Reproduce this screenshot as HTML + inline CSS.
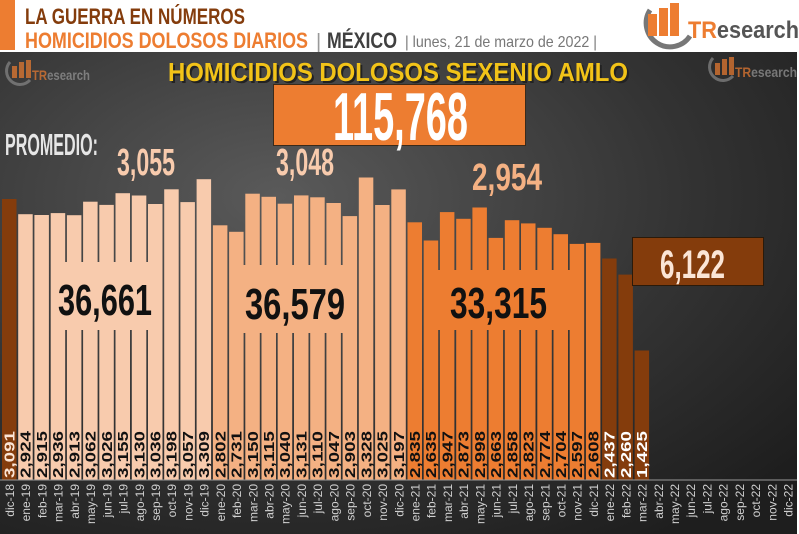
<!DOCTYPE html>
<html><head><meta charset="utf-8"><style>
html,body{margin:0;padding:0;background:#fff;}
svg{display:block;font-family:"Liberation Sans",sans-serif;}
</style></head><body>
<svg width="799" height="534" viewBox="0 0 799 534" xmlns="http://www.w3.org/2000/svg">
<defs>
<radialGradient id="bg" cx="0.35" cy="0.3" r="0.85">
<stop offset="0" stop-color="#5a5a5a"/><stop offset="0.6" stop-color="#333"/><stop offset="1" stop-color="#1e1e1e"/>
</radialGradient>
</defs>
<rect x="0" y="0" width="799" height="534" fill="#fff"/>
<rect x="0" y="52" width="797" height="482" fill="url(#bg)"/>
<rect x="0" y="0" width="15" height="50" fill="#ed7d31"/>
<text x="25" y="24" font-size="22" font-weight="bold" fill="#843c0c" textLength="220" lengthAdjust="spacingAndGlyphs">LA GUERRA EN NÚMEROS</text>
<text x="25" y="48" font-size="22" font-weight="bold" fill="#ed7d31" textLength="283" lengthAdjust="spacingAndGlyphs">HOMICIDIOS DOLOSOS DIARIOS</text>
<text x="316" y="48" font-size="20" fill="#999">|</text>
<text x="327" y="48" font-size="22" font-weight="bold" fill="#404040" textLength="70" lengthAdjust="spacingAndGlyphs">MÉXICO</text>
<text x="405" y="47" font-size="16" fill="#777" textLength="192" lengthAdjust="spacingAndGlyphs">| lunes, 21 de marzo de 2022 |</text>
<!-- logo -->
<path d="M650 10 A22 22 0 1 0 690 36" fill="none" stroke="#777" stroke-width="5"/>
<rect x="648" y="14" width="9" height="22" fill="#ed7d31"/><rect x="659" y="8" width="9" height="28" fill="#ed7d31"/><rect x="670" y="3" width="9" height="33" fill="#ed7d31"/>
<text x="688" y="38" font-size="24" font-weight="bold" fill="#ed7d31" textLength="111" lengthAdjust="spacingAndGlyphs">TR<tspan fill="#555">esearch</tspan></text>
<g opacity="0.7">
<path d="M10 62 A12 12 0 1 0 30 80" fill="none" stroke="#888" stroke-width="3"/>
<rect x="12" y="66" width="5" height="12" fill="#ed7d31"/><rect x="19" y="62" width="5" height="16" fill="#ed7d31"/><rect x="26" y="60" width="5" height="18" fill="#ed7d31"/>
<text x="32" y="80" font-size="14" font-weight="bold" fill="#ed7d31" textLength="58" lengthAdjust="spacingAndGlyphs">TR<tspan fill="#999">esearch</tspan></text>
<path d="M713 58 A12 12 0 1 0 733 76" fill="none" stroke="#888" stroke-width="3"/>
<rect x="715" y="63" width="5" height="12" fill="#ed7d31"/><rect x="722" y="59" width="5" height="16" fill="#ed7d31"/><rect x="729" y="57" width="5" height="18" fill="#ed7d31"/>
<text x="735" y="77" font-size="14" font-weight="bold" fill="#ed7d31" textLength="62" lengthAdjust="spacingAndGlyphs">TR<tspan fill="#999">esearch</tspan></text>
</g>
<text x="170" y="83" font-size="26" font-weight="bold" fill="#222" textLength="460" lengthAdjust="spacingAndGlyphs">HOMICIDIOS DOLOSOS SEXENIO AMLO</text>
<text x="168" y="81" font-size="26" font-weight="bold" fill="#f2c318" textLength="460" lengthAdjust="spacingAndGlyphs">HOMICIDIOS DOLOSOS SEXENIO AMLO</text>
<rect x="273.5" y="84.5" width="252" height="61" fill="#ed7d31" stroke="#3a2a1a"/>
<text x="333" y="140" font-size="68" font-weight="bold" fill="#fff" textLength="135" lengthAdjust="spacingAndGlyphs">115,768</text>
<text x="5" y="155" font-size="31" font-weight="bold" fill="#e6e6e6" textLength="93" lengthAdjust="spacingAndGlyphs">PROMEDIO:</text>
<g font-size="38" font-weight="bold" fill="#f8cbad">
<text x="117" y="175" textLength="58" lengthAdjust="spacingAndGlyphs">3,055</text>
<text x="276" y="175" textLength="58" lengthAdjust="spacingAndGlyphs">3,048</text>
<text x="472" y="190" fill="#f4b183" textLength="70" lengthAdjust="spacingAndGlyphs">2,954</text>
</g>
<!-- bars -->
<g>
<rect x="2" y="199" width="14.5" height="281" fill="#843c0c"/>
<g fill="#f8cbad">
<rect x="18.2" y="214.2" width="14.5" height="265.8"/>
<rect x="34.4" y="215" width="14.5" height="265"/>
<rect x="50.7" y="213.1" width="14.5" height="266.9"/>
<rect x="66.9" y="215.2" width="14.5" height="264.8"/>
<rect x="83.1" y="201.7" width="14.5" height="278.3"/>
<rect x="99.3" y="204.9" width="14.5" height="275.1"/>
<rect x="115.5" y="193.2" width="14.5" height="286.8"/>
<rect x="131.8" y="195.5" width="14.5" height="284.5"/>
<rect x="148" y="204" width="14.5" height="276"/>
<rect x="164.2" y="189.3" width="14.5" height="290.7"/>
<rect x="180.4" y="202.1" width="14.5" height="277.9"/>
<rect x="196.6" y="179.2" width="14.5" height="300.8"/>
<rect x="55" y="262" width="100" height="68"/>
</g>
<g fill="#f4b183">
<rect x="212.9" y="225.3" width="14.5" height="254.7"/>
<rect x="229.1" y="231.8" width="14.5" height="248.2"/>
<rect x="245.3" y="193.7" width="14.5" height="286.3"/>
<rect x="261.5" y="196.8" width="14.5" height="283.2"/>
<rect x="277.7" y="203.7" width="14.5" height="276.3"/>
<rect x="294" y="195.4" width="14.5" height="284.6"/>
<rect x="310.2" y="197.3" width="14.5" height="282.7"/>
<rect x="326.4" y="203" width="14.5" height="277"/>
<rect x="342.6" y="216.1" width="14.5" height="263.9"/>
<rect x="358.8" y="177.5" width="14.5" height="302.5"/>
<rect x="375.1" y="205" width="14.5" height="275"/>
<rect x="391.3" y="189.4" width="14.5" height="290.6"/>
<rect x="232" y="265" width="113" height="68"/>
</g>
<g fill="#ed7d31">
<rect x="407.5" y="222.3" width="14.5" height="257.7"/>
<rect x="423.7" y="240.5" width="14.5" height="239.5"/>
<rect x="439.9" y="212.1" width="14.5" height="267.9"/>
<rect x="456.2" y="218.8" width="14.5" height="261.2"/>
<rect x="472.4" y="207.5" width="14.5" height="272.5"/>
<rect x="488.6" y="237.9" width="14.5" height="242.1"/>
<rect x="504.8" y="220.2" width="14.5" height="259.8"/>
<rect x="521" y="223.4" width="14.5" height="256.6"/>
<rect x="537.3" y="227.8" width="14.5" height="252.2"/>
<rect x="553.5" y="234.2" width="14.5" height="245.8"/>
<rect x="569.7" y="243.9" width="14.5" height="236.1"/>
<rect x="585.9" y="242.9" width="14.5" height="237.1"/>
<rect x="428" y="270" width="150" height="60"/>
</g>
<g fill="#843c0c">
<rect x="602.1" y="258.5" width="14.5" height="221.5"/>
<rect x="618.4" y="274.6" width="14.5" height="205.4"/>
<rect x="634.6" y="350.5" width="14.5" height="129.5"/>
</g>
</g>
<g font-size="44" font-weight="bold" fill="#111">
<text x="58" y="315" textLength="94" lengthAdjust="spacingAndGlyphs">36,661</text>
<text x="245" y="319" textLength="100" lengthAdjust="spacingAndGlyphs">36,579</text>
<text x="450" y="318" textLength="97" lengthAdjust="spacingAndGlyphs">33,315</text>
</g>
<rect x="632.5" y="237.5" width="131" height="48" fill="#843c0c" stroke="#2a1a0a"/>
<text x="660" y="278" font-size="40" font-weight="bold" fill="#fbe5d6" textLength="65" lengthAdjust="spacingAndGlyphs">6,122</text>
<line x1="0" y1="480" x2="797" y2="480" stroke="#999" stroke-width="1"/>
<!-- value labels -->
<g font-size="15" font-weight="bold" fill="#111">
<text transform="translate(14.5,478) rotate(-90)" fill="#fbe5d6" textLength="47" lengthAdjust="spacingAndGlyphs">3,091</text>
<text transform="translate(30.7,478) rotate(-90)" textLength="47" lengthAdjust="spacingAndGlyphs">2,924</text>
<text transform="translate(46.9,478) rotate(-90)" textLength="47" lengthAdjust="spacingAndGlyphs">2,915</text>
<text transform="translate(63.2,478) rotate(-90)" textLength="47" lengthAdjust="spacingAndGlyphs">2,936</text>
<text transform="translate(79.4,478) rotate(-90)" textLength="47" lengthAdjust="spacingAndGlyphs">2,913</text>
<text transform="translate(95.6,478) rotate(-90)" textLength="47" lengthAdjust="spacingAndGlyphs">3,062</text>
<text transform="translate(111.8,478) rotate(-90)" textLength="47" lengthAdjust="spacingAndGlyphs">3,026</text>
<text transform="translate(128,478) rotate(-90)" textLength="47" lengthAdjust="spacingAndGlyphs">3,155</text>
<text transform="translate(144.3,478) rotate(-90)" textLength="47" lengthAdjust="spacingAndGlyphs">3,130</text>
<text transform="translate(160.5,478) rotate(-90)" textLength="47" lengthAdjust="spacingAndGlyphs">3,036</text>
<text transform="translate(176.7,478) rotate(-90)" textLength="47" lengthAdjust="spacingAndGlyphs">3,198</text>
<text transform="translate(192.9,478) rotate(-90)" textLength="47" lengthAdjust="spacingAndGlyphs">3,057</text>
<text transform="translate(209.1,478) rotate(-90)" textLength="47" lengthAdjust="spacingAndGlyphs">3,309</text>
<text transform="translate(225.4,478) rotate(-90)" textLength="47" lengthAdjust="spacingAndGlyphs">2,802</text>
<text transform="translate(241.6,478) rotate(-90)" textLength="47" lengthAdjust="spacingAndGlyphs">2,731</text>
<text transform="translate(257.8,478) rotate(-90)" textLength="47" lengthAdjust="spacingAndGlyphs">3,150</text>
<text transform="translate(274,478) rotate(-90)" textLength="47" lengthAdjust="spacingAndGlyphs">3,115</text>
<text transform="translate(290.2,478) rotate(-90)" textLength="47" lengthAdjust="spacingAndGlyphs">3,040</text>
<text transform="translate(306.5,478) rotate(-90)" textLength="47" lengthAdjust="spacingAndGlyphs">3,131</text>
<text transform="translate(322.7,478) rotate(-90)" textLength="47" lengthAdjust="spacingAndGlyphs">3,110</text>
<text transform="translate(338.9,478) rotate(-90)" textLength="47" lengthAdjust="spacingAndGlyphs">3,047</text>
<text transform="translate(355.1,478) rotate(-90)" textLength="47" lengthAdjust="spacingAndGlyphs">2,903</text>
<text transform="translate(371.3,478) rotate(-90)" textLength="47" lengthAdjust="spacingAndGlyphs">3,328</text>
<text transform="translate(387.6,478) rotate(-90)" textLength="47" lengthAdjust="spacingAndGlyphs">3,025</text>
<text transform="translate(403.8,478) rotate(-90)" textLength="47" lengthAdjust="spacingAndGlyphs">3,197</text>
<text transform="translate(420,478) rotate(-90)" textLength="47" lengthAdjust="spacingAndGlyphs">2,835</text>
<text transform="translate(436.2,478) rotate(-90)" textLength="47" lengthAdjust="spacingAndGlyphs">2,635</text>
<text transform="translate(452.4,478) rotate(-90)" textLength="47" lengthAdjust="spacingAndGlyphs">2,947</text>
<text transform="translate(468.7,478) rotate(-90)" textLength="47" lengthAdjust="spacingAndGlyphs">2,873</text>
<text transform="translate(484.9,478) rotate(-90)" textLength="47" lengthAdjust="spacingAndGlyphs">2,998</text>
<text transform="translate(501.1,478) rotate(-90)" textLength="47" lengthAdjust="spacingAndGlyphs">2,663</text>
<text transform="translate(517.3,478) rotate(-90)" textLength="47" lengthAdjust="spacingAndGlyphs">2,858</text>
<text transform="translate(533.5,478) rotate(-90)" textLength="47" lengthAdjust="spacingAndGlyphs">2,823</text>
<text transform="translate(549.8,478) rotate(-90)" textLength="47" lengthAdjust="spacingAndGlyphs">2,774</text>
<text transform="translate(566,478) rotate(-90)" textLength="47" lengthAdjust="spacingAndGlyphs">2,704</text>
<text transform="translate(582.2,478) rotate(-90)" textLength="47" lengthAdjust="spacingAndGlyphs">2,597</text>
<text transform="translate(598.4,478) rotate(-90)" textLength="47" lengthAdjust="spacingAndGlyphs">2,608</text>
<text transform="translate(614.6,478) rotate(-90)" fill="#fff" textLength="47" lengthAdjust="spacingAndGlyphs">2,437</text>
<text transform="translate(630.9,478) rotate(-90)" fill="#fff" textLength="47" lengthAdjust="spacingAndGlyphs">2,260</text>
<text transform="translate(647.1,478) rotate(-90)" fill="#fff" textLength="47" lengthAdjust="spacingAndGlyphs">1,425</text>
</g>
<!-- month labels -->
<g font-size="12" fill="#d0d0d0" text-anchor="end">
<text transform="translate(14,484) rotate(-90)">dic-18</text>
<text transform="translate(30.2,484) rotate(-90)">ene-19</text>
<text transform="translate(46.4,484) rotate(-90)">feb-19</text>
<text transform="translate(62.7,484) rotate(-90)">mar-19</text>
<text transform="translate(78.9,484) rotate(-90)">abr-19</text>
<text transform="translate(95.1,484) rotate(-90)">may-19</text>
<text transform="translate(111.3,484) rotate(-90)">jun-19</text>
<text transform="translate(127.5,484) rotate(-90)">jul-19</text>
<text transform="translate(143.8,484) rotate(-90)">ago-19</text>
<text transform="translate(160,484) rotate(-90)">sep-19</text>
<text transform="translate(176.2,484) rotate(-90)">oct-19</text>
<text transform="translate(192.4,484) rotate(-90)">nov-19</text>
<text transform="translate(208.6,484) rotate(-90)">dic-19</text>
<text transform="translate(224.9,484) rotate(-90)">ene-20</text>
<text transform="translate(241.1,484) rotate(-90)">feb-20</text>
<text transform="translate(257.3,484) rotate(-90)">mar-20</text>
<text transform="translate(273.5,484) rotate(-90)">abr-20</text>
<text transform="translate(289.7,484) rotate(-90)">may-20</text>
<text transform="translate(306,484) rotate(-90)">jun-20</text>
<text transform="translate(322.2,484) rotate(-90)">jul-20</text>
<text transform="translate(338.4,484) rotate(-90)">ago-20</text>
<text transform="translate(354.6,484) rotate(-90)">sep-20</text>
<text transform="translate(370.8,484) rotate(-90)">oct-20</text>
<text transform="translate(387.1,484) rotate(-90)">nov-20</text>
<text transform="translate(403.3,484) rotate(-90)">dic-20</text>
<text transform="translate(419.5,484) rotate(-90)">ene-21</text>
<text transform="translate(435.7,484) rotate(-90)">feb-21</text>
<text transform="translate(451.9,484) rotate(-90)">mar-21</text>
<text transform="translate(468.2,484) rotate(-90)">abr-21</text>
<text transform="translate(484.4,484) rotate(-90)">may-21</text>
<text transform="translate(500.6,484) rotate(-90)">jun-21</text>
<text transform="translate(516.8,484) rotate(-90)">jul-21</text>
<text transform="translate(533,484) rotate(-90)">ago-21</text>
<text transform="translate(549.3,484) rotate(-90)">sep-21</text>
<text transform="translate(565.5,484) rotate(-90)">oct-21</text>
<text transform="translate(581.7,484) rotate(-90)">nov-21</text>
<text transform="translate(597.9,484) rotate(-90)">dic-21</text>
<text transform="translate(614.1,484) rotate(-90)">ene-22</text>
<text transform="translate(630.4,484) rotate(-90)">feb-22</text>
<text transform="translate(646.6,484) rotate(-90)">mar-22</text>
<text transform="translate(662.8,484) rotate(-90)">abr-22</text>
<text transform="translate(679,484) rotate(-90)">may-22</text>
<text transform="translate(695.2,484) rotate(-90)">jun-22</text>
<text transform="translate(711.5,484) rotate(-90)">jul-22</text>
<text transform="translate(727.7,484) rotate(-90)">ago-22</text>
<text transform="translate(743.9,484) rotate(-90)">sep-22</text>
<text transform="translate(760.1,484) rotate(-90)">oct-22</text>
<text transform="translate(776.3,484) rotate(-90)">nov-22</text>
<text transform="translate(792.6,484) rotate(-90)">dic-22</text>
</g>
</svg>
</body></html>
